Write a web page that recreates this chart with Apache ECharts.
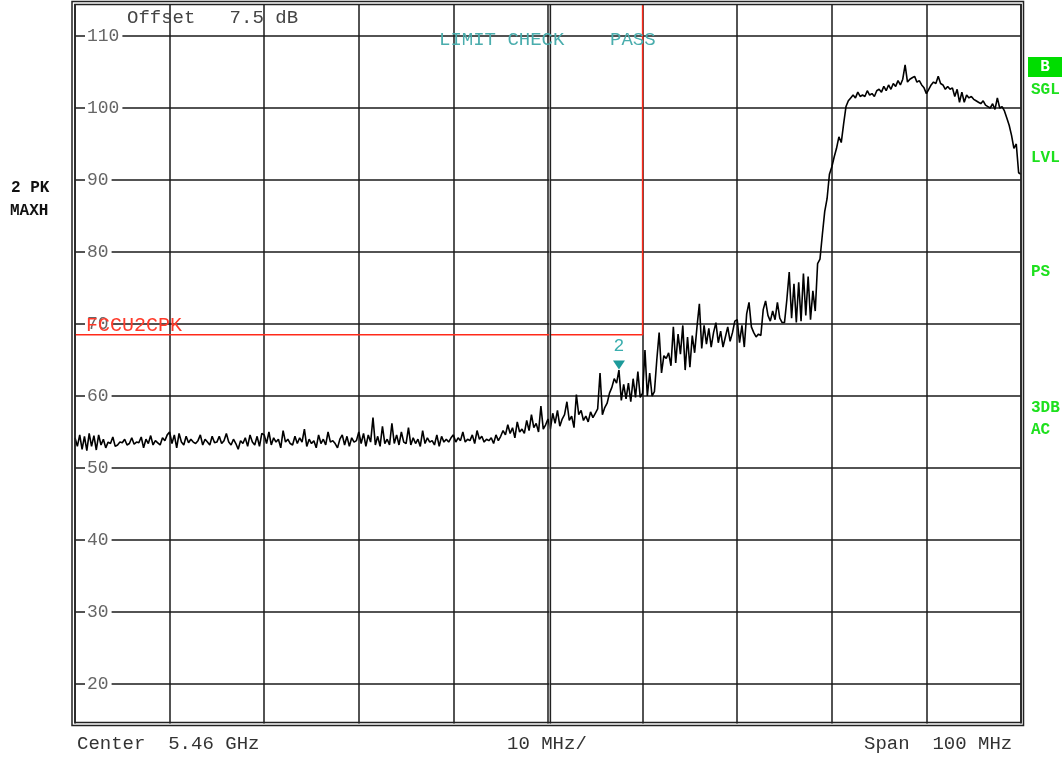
<!DOCTYPE html>
<html>
<head>
<meta charset="utf-8">
<script src="https://cdn.jsdelivr.net/npm/echarts@6/dist/echarts.min.js"></script>
<style>
  html, body { margin: 0; padding: 0; background: #fff; }
  #chart { width: 1062px; height: 757px; }
</style>
</head>
<body>
<div id="chart"></div>
<script>
// sweep: 5.41 .. 5.51 GHz, 401 points (0.25 MHz apart)
const startMHz = 5410
const stepMHz = 0.25
const freqTicks = [5410, 5420, 5430, 5440, 5450, 5460, 5470, 5480, 5490, 5500, 5510]
const levelTicks = [20, 30, 40, 50, 60, 70, 80, 90, 100, 110]

// trace 2 (PK, MAXH) in dBm, 5 MHz per row
const traceLevels = [
  54.2, 53.0, 54.6, 52.6, 54.4, 52.4, 54.8, 53.0, 54.5, 52.5, 54.6, 53.2, 54.0, 52.8, 53.6, 53.4, 54.3, 53.0, 53.2, 53.6,
  53.5, 54.0, 53.2, 53.4, 54.2, 53.3, 53.6, 53.5, 54.3, 52.8, 54.0, 53.4, 54.5, 53.2, 53.8, 53.5, 53.2, 54.2, 53.8, 54.6,
  55.0, 53.4, 54.6, 52.8, 54.8, 53.6, 53.2, 54.4, 53.5, 54.0, 53.6, 53.4, 53.8, 54.6, 53.2, 54.0, 53.6, 53.2, 54.4, 53.5,
  53.6, 54.4, 53.4, 53.8, 54.8, 53.6, 53.2, 54.0, 53.4, 52.6, 53.8, 53.4, 54.2, 53.0, 54.6, 53.6, 53.2, 54.4, 53.0, 54.8,
  54.6, 53.4, 55.0, 53.2, 54.2, 53.6, 54.0, 52.8, 55.2, 53.6, 54.0, 53.4, 53.2, 54.4, 53.4, 54.2, 53.6, 55.4, 53.0, 54.0,
  53.4, 53.8, 52.8, 54.6, 53.4, 54.0, 53.2, 55.0, 53.6, 53.8, 53.4, 52.8, 54.0, 54.6, 53.2, 54.4, 53.0, 54.2, 53.6, 53.8,
  55.0, 53.4, 54.8, 53.0, 54.6, 53.6, 57.0, 53.2, 54.4, 53.0, 55.8, 53.4, 54.0, 53.2, 56.2, 53.4, 54.6, 53.2, 55.0, 53.6,
  53.4, 55.6, 53.2, 54.2, 53.4, 54.0, 53.0, 55.2, 53.4, 54.2, 53.6, 53.8, 53.2, 54.6, 53.0, 54.4, 53.6, 54.0, 53.6, 54.2,
  54.6, 53.6, 54.2, 53.8, 55.0, 53.6, 54.0, 53.8, 54.6, 53.4, 55.2, 54.0, 54.4, 53.6, 54.0, 53.8, 54.2, 53.4, 54.6, 53.8,
  54.4, 55.2, 54.6, 56.0, 54.8, 55.6, 54.2, 56.4, 55.0, 55.4, 54.8, 56.6, 55.2, 57.4, 55.6, 56.2, 55.0, 58.6, 55.4, 56.0,
  56.8, 55.4, 57.6, 56.2, 58.0, 55.8, 56.8, 57.4, 59.2, 56.6, 57.2, 55.6, 60.2, 57.4, 58.0, 56.6, 57.2, 56.4, 57.8, 57.0,
  57.6, 58.2, 63.2, 57.4, 58.4, 59.0, 60.4, 61.2, 62.4, 61.8, 63.6, 59.4, 61.6, 59.6, 61.8, 59.2, 62.4, 59.8, 63.4, 59.8,
  60.4, 66.4, 60.0, 63.2, 60.0, 60.6, 65.0, 68.8, 63.2, 65.6, 65.2, 66.0, 64.2, 69.6, 64.6, 68.6, 65.8, 69.8, 63.6, 68.2,
  64.0, 68.4, 66.0, 69.6, 72.8, 66.6, 69.8, 67.2, 69.4, 66.8, 68.8, 70.2, 67.4, 69.0, 66.8, 68.2, 69.6, 67.6, 68.8, 70.4,
  70.6, 67.4, 69.8, 66.8, 71.4, 73.0, 69.6, 68.8, 68.2, 68.6, 68.4, 72.0, 73.2, 71.2, 70.4, 71.8, 70.6, 73.0, 70.8, 70.2,
  70.2, 73.4, 77.2, 70.8, 75.6, 70.2, 75.8, 70.4, 77.0, 71.2, 76.6, 70.6, 74.6, 71.8, 78.4, 79.0, 82.4, 85.6, 87.4, 90.8,
  91.8, 93.2, 94.4, 96.0, 95.2, 97.8, 100.2, 101.0, 101.4, 101.8, 101.4, 102.2, 101.6, 101.8, 101.6, 102.4, 101.8, 102.0, 101.6, 102.4,
  102.6, 102.2, 103.0, 102.4, 103.2, 102.6, 103.4, 103.0, 103.8, 103.2, 104.0, 106.0, 103.6, 104.0, 104.2, 104.4, 103.6, 103.8, 103.2, 102.8,
  102.0, 102.6, 103.2, 103.6, 103.4, 104.4, 103.4, 103.2, 102.6, 103.0, 102.6, 102.8, 101.6, 102.6, 100.8, 102.2, 100.8, 101.8, 101.4, 101.6,
  101.2, 101.0, 100.8, 100.6, 101.0, 100.4, 100.2, 100.0, 100.6, 99.8, 101.4, 100.0, 100.2, 99.6, 98.6, 97.6, 96.2, 94.4, 95.0, 91.0, 90.8
]

// limit line FCCU2CPK and marker 2
const limitLevel = 68.5
const limitStopMHz = 5470
const markerFreq = 5467.5
const markerLevel = 63.6

const MONO = '"Liberation Mono", "DejaVu Sans Mono", monospace'

const traceData = traceLevels.map((v, i) => [startMHz + i * stepMHz, v])
const limitData = [[startMHz, limitLevel], [limitStopMHz, limitLevel], [limitStopMHz, 115]]

function txt(text, x, y, color, size, bold, align) {
  return {
    type: "text", x: x, y: y, z: 120,
    style: {
      text: text, fill: color, textVerticalAlign: "middle", textAlign: align || "left",
      font: (bold ? "bold " : "") + size + "px " + MONO,
    },
  }
}

const chart = echarts.init(document.getElementById("chart"))
const option = {
  animation: false,
  backgroundColor: "#fff",
  grid: { left: 75, right: 41, top: 0, bottom: 1 },
  xAxis: {
    type: "value",
    min: freqTicks[0],
    max: freqTicks[freqTicks.length - 1],
    interval: 10,
    axisLine: { show: false },
    axisTick: { show: false },
    axisLabel: { show: false },
    splitLine: { show: true, lineStyle: { color: "#1a1a1a", width: 1.5 } },
  },
  yAxis: {
    type: "value",
    min: 10,
    max: 115,
    interval: 10,
    axisLine: { show: false },
    axisTick: { show: false },
    axisLabel: {
      inside: true,
      margin: 10,
      color: "#666",
      fontSize: 18,
      fontFamily: MONO,
      backgroundColor: "#fff",
      padding: [0, 3, 0, 2],
      formatter: (v) => (levelTicks.includes(v) ? String(v) : ""),
    },
    splitLine: { show: true, lineStyle: { color: "#1a1a1a", width: 1.5 } },
  },
  series: [
    {
      name: "limit",
      type: "line",
      data: limitData,
      showSymbol: false,
      lineStyle: { color: "#ff2a1a", width: 1.5 },
      z: 3,
    },
    {
      name: "trace 2",
      type: "line",
      data: traceData,
      showSymbol: false,
      lineStyle: { color: "#000", width: 1.6 },
      z: 4,
      markLine: {
        silent: true,
        symbol: "none",
        label: { show: false },
        data: [
          { xAxis: 5460.14, lineStyle: { color: "#aaa", width: 1.5, type: "solid" } },
          { xAxis: 5460.28, lineStyle: { color: "#222", width: 1.3, type: "solid" } },
        ],
      },
      markPoint: {
        silent: true,
        symbol: "triangle",
        symbolRotate: 180,
        symbolSize: [12, 9],
        symbolOffset: [0, -5],
        itemStyle: { color: "#1c9a9a" },
        label: {
          show: true, position: "top", distance: 5,
          formatter: "2", color: "#3aaeae", fontSize: 18, fontFamily: MONO,
        },
        data: [{ coord: [markerFreq, markerLevel] }],
      },
    },
  ],
  graphic: [
    // white outside the screen frame
    { type: "rect", z: 90, shape: { x: 0, y: 723.5, width: 1062, height: 34 }, style: { fill: "#fff" } },
    { type: "rect", z: 90, shape: { x: 0, y: 0, width: 1062, height: 4 }, style: { fill: "#fff" } },
    // double frame
    { type: "rect", z: 100, shape: { x: 72, y: 1.5, width: 951.5, height: 724 }, style: { fill: "none", stroke: "#222", lineWidth: 1.5 } },
    { type: "rect", z: 100, shape: { x: 75, y: 4.5, width: 946, height: 718 }, style: { fill: "none", stroke: "#222", lineWidth: 1.5 } },
    txt("Offset   7.5 dB", 127, 18, "#444", 19),
    txt("LIMIT CHECK    PASS", 439, 40, "#4aadad", 19),
    txt("FCCU2CPK", 86, 326, "#ff3a2a", 20),
    txt("2 PK", 11, 188, "#111", 16, true),
    txt("MAXH", 10, 211, "#111", 16, true),
    { type: "rect", z: 110, shape: { x: 1028, y: 57, width: 34, height: 20 }, style: { fill: "#00dd00" } },
    txt("B", 1045, 67, "#fff", 16, true, "center"),
    txt("SGL", 1031, 90, "#1ee01e", 16, true),
    txt("LVL", 1031, 158, "#1ee01e", 16, true),
    txt("PS", 1031, 272, "#1ee01e", 16, true),
    txt("3DB", 1031, 408, "#1ee01e", 16, true),
    txt("AC", 1031, 430, "#1ee01e", 16, true),
    txt("Center  5.46 GHz", 77, 744, "#333", 19),
    txt("10 MHz/", 507, 744, "#333", 19),
    txt("Span  100 MHz", 864, 744, "#333", 19),
  ],
}
chart.setOption(option)
</script>
</body>
</html>
